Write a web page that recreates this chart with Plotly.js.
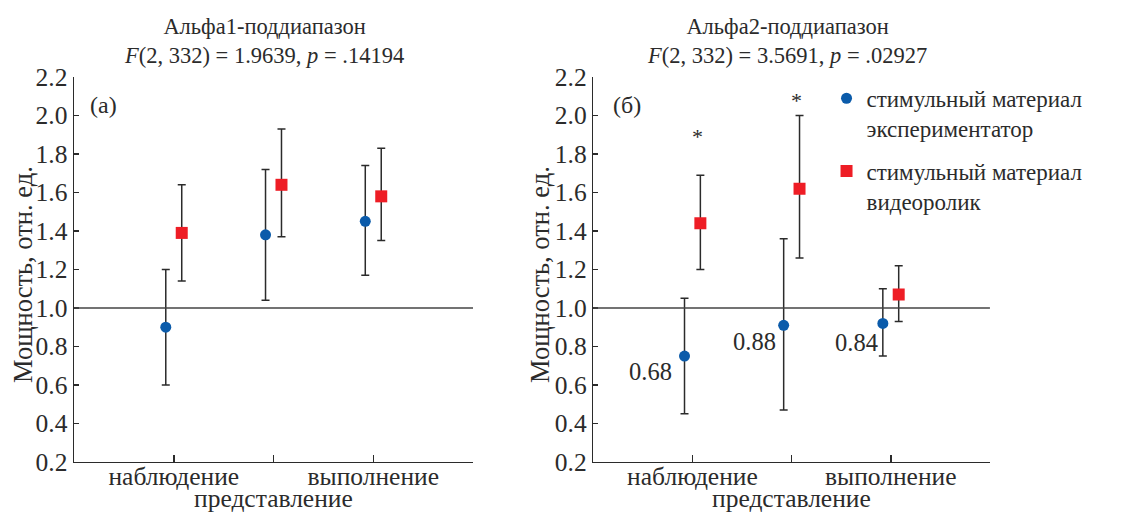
<!DOCTYPE html>
<html><head><meta charset="utf-8">
<script src="https://cdn.plot.ly/plotly-3.0.1.min.js"></script>
<style>html,body{margin:0;padding:0;background:#fff}#chart{width:1123px;height:512px}</style>
</head><body><div id="chart"></div>
<script>
// Categories and tick labels
const categories = [1, 2, 3];
const tickLabels = ['наблюдение', '', 'выполнение', ''];
const middleLabel = 'представление';
const seriesNames = ['стимульный материал<br>экспериментатор', 'стимульный материал<br>видеоролик'];

// Panel (а) Alpha1
const a1Exp = [0.90, 1.38, 1.45];
const a1ExpErrPlus = [0.30, 0.34, 0.29];
const a1ExpErrMinus = [0.30, 0.34, 0.28];
const a1Vid = [1.39, 1.64, 1.58];
const a1VidErrPlus = [0.25, 0.29, 0.25];
const a1VidErrMinus = [0.25, 0.27, 0.23];

// Panel (б) Alpha2
const a2Exp = [0.75, 0.91, 0.92];
const a2ExpErrPlus = [0.30, 0.45, 0.18];
const a2ExpErrMinus = [0.30, 0.44, 0.17];
const a2Vid = [1.44, 1.62, 1.07];
const a2VidErrPlus = [0.25, 0.38, 0.15];
const a2VidErrMinus = [0.24, 0.36, 0.14];

const a2Labels = ['0.68', '0.88', '0.84'];
const titles = [
  'Альфа1-поддиапазон<br><i>F</i>(2, 332) = 1.9639, <i>p</i> = .14194',
  'Альфа2-поддиапазон<br><i>F</i>(2, 332) = 3.5691, <i>p</i> = .02927'
];
const panelLetters = ['(а)', '(б)'];
const yTitle = 'Мощность, отн. ед.';
const refLevel = 1.0;

const FONT = 'Liberation Serif';
const BLUE = '#0B5BAA';
const RED = '#EE1D25';
const INK = '#2b2b2b';
const off = 0.08;

function errObj(plus, minus) {
  return {type: 'data', symmetric: false, array: plus, arrayminus: minus,
          color: INK, thickness: 1.5, width: 4};
}
function trace(vals, plus, minus, shift, xa, ya, isExp, show) {
  return {
    x: categories.map(c => c + shift), y: vals, xaxis: xa, yaxis: ya,
    type: 'scatter', mode: 'markers',
    name: isExp ? seriesNames[0] : seriesNames[1],
    showlegend: show, legendgroup: isExp ? 'e' : 'v',
    marker: isExp ? {color: BLUE, size: 11, symbol: 'circle'} : {color: RED, size: 12, symbol: 'square'},
    error_y: errObj(plus, minus)
  };
}

const data = [
  trace(a1Exp, a1ExpErrPlus, a1ExpErrMinus, -off, 'x', 'y', true, false),
  trace(a1Vid, a1VidErrPlus, a1VidErrMinus, off, 'x', 'y', false, false),
  trace(a2Exp, a2ExpErrPlus, a2ExpErrMinus, -off, 'x2', 'y2', true, true),
  trace(a2Vid, a2VidErrPlus, a2VidErrMinus, off, 'x2', 'y2', false, true)
];

function xax(dom) {
  return {domain: dom, range: [0, 4], tickvals: [1, 2, 3, 4], ticktext: tickLabels,
    tickangle: 0, automargin: false, ticklabelstandoff: -9,
    ticks: 'inside', ticklen: 7, tickwidth: 1.5, tickcolor: INK,
    showline: true, linecolor: INK, linewidth: 1.5, showgrid: false, zeroline: false,
    tickfont: {family: FONT, size: 25.5, color: INK}, fixedrange: true};
}
function yax(anchor) {
  return {domain: [0.0977, 0.8496], range: [0.2, 2.2], dtick: 0.2, tickformat: '.1f',
    anchor: anchor, automargin: false,
    ticks: 'inside', ticklen: 5, tickwidth: 1.5, tickcolor: INK,
    showline: true, linecolor: INK, linewidth: 1.5, showgrid: false, zeroline: false,
    tickfont: {family: FONT, size: 25.5, color: INK}, fixedrange: true};
}

const annotations = [
  {text: titles[0], xref: 'paper', yref: 'paper', x: 0.235, y: 0.919, xanchor: 'center', yanchor: 'middle', showarrow: false, font: {family: FONT, size: 22.5, color: INK}},
  {text: titles[1], xref: 'paper', yref: 'paper', x: 0.7008, y: 0.919, xanchor: 'center', yanchor: 'middle', showarrow: false, font: {family: FONT, size: 22.5, color: INK}},
  {text: yTitle, xref: 'paper', yref: 'paper', x: 0.0205, y: 0.463, textangle: -90, xanchor: 'center', yanchor: 'middle', showarrow: false, font: {family: FONT, size: 26.5, color: INK}},
  {text: yTitle, xref: 'paper', yref: 'paper', x: 0.4809, y: 0.463, textangle: -90, xanchor: 'center', yanchor: 'middle', showarrow: false, font: {family: FONT, size: 26.5, color: INK}},
  {text: panelLetters[0], xref: 'x domain', yref: 'y domain', x: 0.073, y: 0.927, xanchor: 'center', yanchor: 'middle', showarrow: false, font: {family: FONT, size: 24, color: INK}},
  {text: panelLetters[1], xref: 'x2 domain', yref: 'y2 domain', x: 0.085, y: 0.927, xanchor: 'center', yanchor: 'middle', showarrow: false, font: {family: FONT, size: 24, color: INK}},
  {text: middleLabel, xref: 'x', yref: 'paper', x: categories[1], y: 0.026, xanchor: 'center', yanchor: 'middle', showarrow: false, font: {family: FONT, size: 25.5, color: INK}},
  {text: middleLabel, xref: 'x2', yref: 'paper', x: categories[1], y: 0.026, xanchor: 'center', yanchor: 'middle', showarrow: false, font: {family: FONT, size: 25.5, color: INK}},
  {text: '*', xref: 'x2', yref: 'y2', x: 1 + off - 0.03, y: 1.89, xanchor: 'center', yanchor: 'middle', showarrow: false, font: {family: FONT, size: 22, color: INK}},
  {text: '*', xref: 'x2', yref: 'y2', x: 2 + off - 0.03, y: 2.08, xanchor: 'center', yanchor: 'middle', showarrow: false, font: {family: FONT, size: 22, color: INK}}
];
const lblShift = [[-34, -15], [-29, -16], [-26, -19]];
a2Labels.forEach((t, i) => {
  annotations.push({text: t, xref: 'x2', yref: 'y2', x: categories[i] - off, y: a2Exp[i],
    xshift: lblShift[i][0], yshift: lblShift[i][1], xanchor: 'center', yanchor: 'middle',
    showarrow: false, font: {family: FONT, size: 24.5, color: INK}});
});

const layout = {
  width: 1123, height: 512,
  margin: {l: 0, r: 0, t: 0, b: 0},
  paper_bgcolor: '#fff', plot_bgcolor: '#fff',
  font: {family: FONT, color: INK},
  showlegend: true,
  legend: {x: 0.736, y: 0.85, xanchor: 'left', yanchor: 'top', valign: 'top',
    font: {family: FONT, size: 23, color: INK}, bgcolor: 'rgba(0,0,0,0)', itemwidth: 30},
  xaxis: xax([0.0659, 0.4212]),
  yaxis: yax('x'),
  xaxis2: xax([0.5283, 0.8815]),
  yaxis2: yax('x2'),
  shapes: [
    {type: 'line', xref: 'x domain', yref: 'y', x0: 0, x1: 1, y0: refLevel, y1: refLevel, line: {color: '#444', width: 1.5}},
    {type: 'line', xref: 'x2 domain', yref: 'y2', x0: 0, x1: 1, y0: refLevel, y1: refLevel, line: {color: '#444', width: 1.5}}
  ],
  annotations: annotations
};

Plotly.newPlot('chart', data, layout, {displayModeBar: false, staticPlot: true});
</script></body></html>
